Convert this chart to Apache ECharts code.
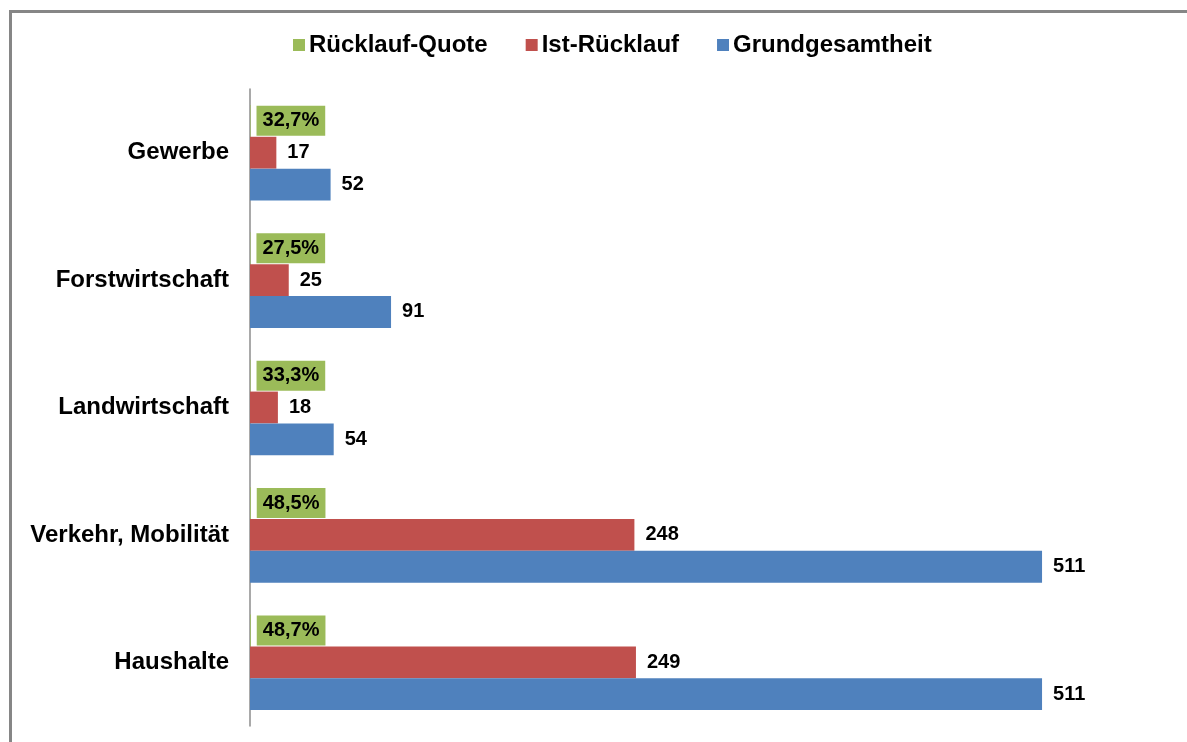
<!DOCTYPE html>
<html>
<head>
<meta charset="utf-8">
<script src="https://cdn.jsdelivr.net/npm/echarts@6/dist/echarts.min.js"></script>
<style>
  html, body { margin: 0; padding: 0; background: #fff; }
  #chart { width: 1187px; height: 742px; }
</style>
</head>
<body>
<div id="chart"></div>
<script>
// Sectors surveyed
const categories = ['Gewerbe', 'Forstwirtschaft', 'Landwirtschaft', 'Verkehr, Mobilität', 'Haushalte'];
// Response rate (share of population)
const quote = [0.327, 0.275, 0.333, 0.485, 0.487];
// Actual responses
const istRuecklauf = [17, 25, 18, 248, 249];
// Population size
const grundgesamtheit = [52, 91, 54, 511, 511];

const FONT = "'Liberation Sans', Arial, sans-serif";
const fmtPct = v => (v * 100).toFixed(1).replace('.', ',') + '%';

const chart = echarts.init(document.getElementById('chart'));

const valueLabel = {
  show: true,
  position: 'right',
  distance: 11,
  color: '#000',
  fontFamily: FONT,
  fontWeight: 'bold',
  fontSize: 20
};

chart.setOption({
  animation: false,
  backgroundColor: '#fff',
  textStyle: { fontFamily: FONT },
  graphic: [{
    type: 'rect',
    shape: { x: 10.5, y: 11.5, width: 1400, height: 900 },
    style: { fill: 'none', stroke: '#868686', lineWidth: 3 },
    silent: true
  }],
  legend: {
    top: 28,
    left: 288,
    itemWidth: 12,
    itemHeight: 12,
    itemGap: 38,
    icon: 'rect',
    textStyle: { fontFamily: FONT, fontWeight: 'bold', fontSize: 24, color: '#000', padding: [0, 0, 0, -1] }
  },
  grid: { left: 250, top: 89, width: 930, height: 637, containLabel: false },
  xAxis: {
    type: 'value',
    min: 0,
    max: 600,
    show: false
  },
  yAxis: {
    type: 'category',
    data: categories,
    inverse: true,
    axisLine: { show: true, lineStyle: { color: '#8c8c8c', width: 1.5 } },
    axisTick: { show: false },
    axisLabel: {
      margin: 21,
      color: '#000',
      fontFamily: FONT,
      fontWeight: 'bold',
      fontSize: 24
    },
    splitLine: { show: false }
  },
  series: [
    {
      name: 'Rücklauf-Quote',
      type: 'bar',
      data: quote,
      barGap: '0%',
      barCategoryGap: '25%',
      itemStyle: { color: '#9BBB59' },
      label: {
        show: true,
        position: 'right',
        distance: 6,
        formatter: p => fmtPct(p.value),
        backgroundColor: '#9BBB59',
        padding: [5, 6, 5, 6],
        lineHeight: 20,
        color: '#000',
        fontFamily: FONT,
        fontWeight: 'bold',
        fontSize: 20
      }
    },
    {
      name: 'Ist-Rücklauf',
      type: 'bar',
      data: istRuecklauf,
      barGap: '0%',
      barCategoryGap: '25%',
      itemStyle: { color: '#C0504D' },
      label: valueLabel
    },
    {
      name: 'Grundgesamtheit',
      type: 'bar',
      data: grundgesamtheit,
      barGap: '0%',
      barCategoryGap: '25%',
      itemStyle: { color: '#4F81BD' },
      label: valueLabel
    }
  ]
});
</script>
</body>
</html>
